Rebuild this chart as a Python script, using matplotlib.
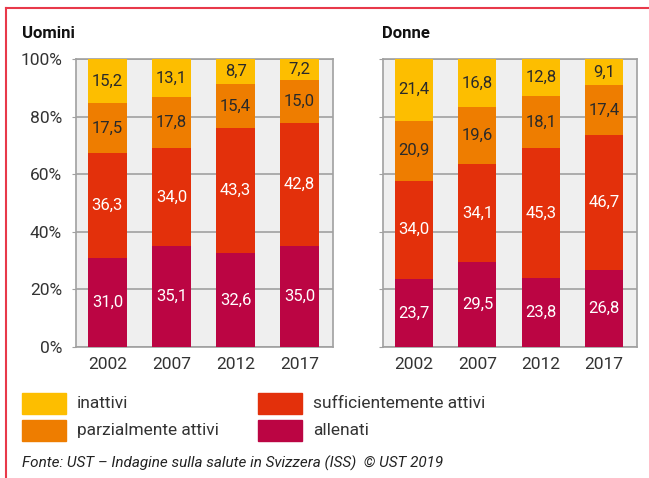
import matplotlib.pyplot as plt
from matplotlib.patches import Rectangle
from matplotlib.lines import Line2D
import numpy as np

plt.rcParams['font.family'] = ['Roboto', 'DejaVu Sans']

anni = ['2002', '2007', '2012', '2017']
categorie = ['allenati', 'sufficientemente attivi', 'parzialmente attivi', 'inattivi']
colori = ['#bb0543', '#e3300b', '#ee7d00', '#fdbe00']
testo_col = ['white', 'white', '#2a2a2a', '#2a2a2a']

uomini = {
    'allenati': [31.0, 35.1, 32.6, 35.0],
    'sufficientemente attivi': [36.3, 34.0, 43.3, 42.8],
    'parzialmente attivi': [17.5, 17.8, 15.4, 15.0],
    'inattivi': [15.2, 13.1, 8.7, 7.2],
}
donne = {
    'allenati': [23.7, 29.5, 23.8, 26.8],
    'sufficientemente attivi': [34.0, 34.1, 45.3, 46.7],
    'parzialmente attivi': [20.9, 19.6, 18.1, 17.4],
    'inattivi': [21.4, 16.8, 12.8, 9.1],
}

fig = plt.figure(figsize=(6.49, 4.78), dpi=100)
ax1 = fig.add_axes([76 / 649, 1 - 347 / 478, 257 / 649, 288 / 478])
ax2 = fig.add_axes([383 / 649, 1 - 347 / 478, 254 / 649, 288 / 478])

GRIGIO = '#333333'


def disegna(ax, dati, etichette_y):
    x = np.arange(len(anni))
    base = np.zeros(len(anni))
    ax.set_facecolor('#efefef')
    for cat, col, tc in zip(categorie, colori, testo_col):
        v = np.array(dati[cat])
        ax.bar(x, v, 0.6, bottom=base, color=col, zorder=3)
        for xi, b, h in zip(x, base, v):
            ax.text(xi, b + h / 2, f'{h:.1f}'.replace('.', ','), ha='center', va='center',
                    color=tc, fontsize=12, zorder=4)
        base += v
    ax.set_xlim(-0.49, 3.52)
    ax.set_ylim(0, 100)
    ax.set_xticks(x)
    ax.set_xticklabels(anni, fontsize=12.5, color=GRIGIO)
    ax.set_yticks(np.arange(0, 101, 20))
    if etichette_y:
        ax.set_yticklabels([f'{v}%' for v in range(0, 101, 20)], fontsize=12.5, color=GRIGIO)
    else:
        ax.set_yticklabels([])
    ax.tick_params(axis='x', length=0, pad=7)
    ax.tick_params(axis='y', length=3, color='#a0a0a0', pad=7)
    ax.grid(axis='y', color='#a0a0a0', linewidth=1.2, zorder=1)
    for s in ax.spines.values():
        s.set_color('#a0a0a0')
        s.set_linewidth(1.2)
    ax.set_axisbelow(True)


disegna(ax1, uomini, True)
disegna(ax2, donne, False)

fig.text(22 / 649, 1 - 33 / 478, 'Uomini', fontsize=12, fontweight='bold', va='center', color='#111111')
fig.text(382 / 649, 1 - 33 / 478, 'Donne', fontsize=12, fontweight='bold', va='center', color='#111111')

# legenda
leg = [('inattivi', '#fdbe00', 22, 393), ('parzialmente attivi', '#ee7d00', 22, 420),
       ('sufficientemente attivi', '#e3300b', 258, 393), ('allenati', '#bb0543', 258, 420)]
for nome, col, px, py in leg:
    fig.patches.append(Rectangle((px / 649, 1 - (py + 21) / 478), 44 / 649, 21 / 478,
                                 color=col, transform=fig.transFigure))
    fig.text((px + 55) / 649, 1 - (py + 10.5) / 478, nome, fontsize=12.5, va='center',
             color=GRIGIO)

fig.text(22 / 649, 1 - 463 / 478, 'Fonte: UST – Indagine sulla salute in Svizzera (ISS)  © UST 2019',
         fontsize=11, style='italic', va='center', color='#222222')

# cornice rossa
fig.lines.append(Line2D([5.5 / 649, 5.5 / 649], [0, 1 - 8 / 478], color='#e8394a', lw=1.5, transform=fig.transFigure))
fig.lines.append(Line2D([5.5 / 649, 1], [1 - 8 / 478, 1 - 8 / 478], color='#e8394a', lw=1.5, transform=fig.transFigure))

fig.savefig('out.png', dpi=100)
